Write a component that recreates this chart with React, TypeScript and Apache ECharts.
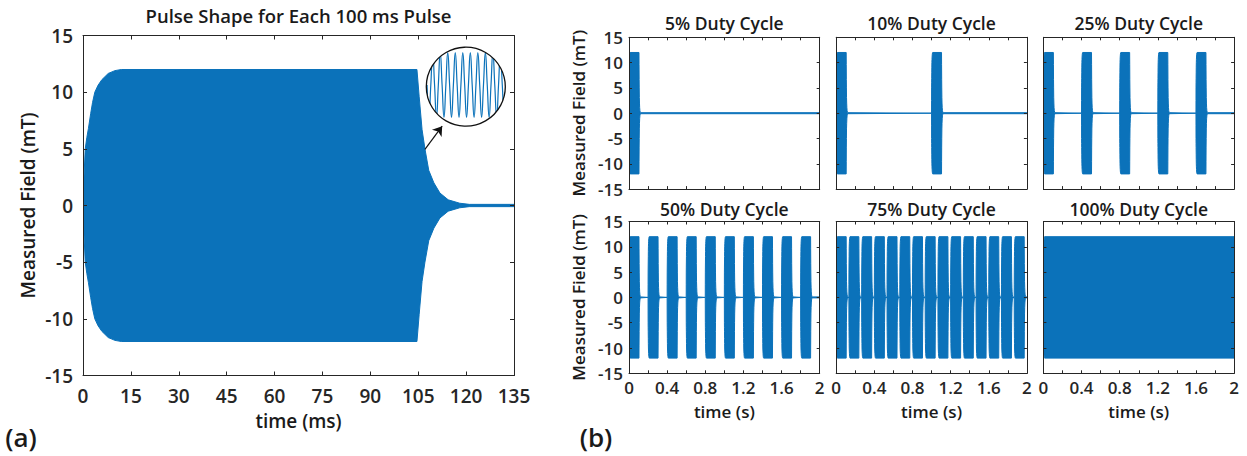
import React, { useEffect, useRef } from 'react';
import * as echarts from 'echarts';

const BLUE = '#0B72BA';
const AXIS = '#262626';
const FONT = '"Open Sans", "Noto Sans", sans-serif';

// ---- Pulse envelope (time in ms, amplitude in mT) ----
const riseMs = [0, 0.3, 0.7, 1.2, 1.7, 2.4, 3, 3.7, 4.7, 5.9, 7.9, 10, 12];
const riseAmp = [0, 2.5, 5, 6, 6.8, 8.1, 9.1, 10, 10.6, 11.1, 11.65, 11.9, 12];
const switchOffMs = 104.6;
const decayMs = [0, 0.7, 1.6, 2.5, 3.7, 5.3, 7.2, 9.8, 13.4, 16.4]; // after switch-off
const decayAmp = [12, 9.6, 6.7, 5, 3.1, 2, 1.1, 0.5, 0.2, 0.1];

// ---- Panel (a) axes ----
const aXMax = 135;
const aXStep = 15;
const yMin = -15;
const yMax = 15;
const yStep = 5;

// ---- Inset: zoomed oscillation (quarter-period samples) ----
const insetStart = 0.1;
const insetStep = 0.25;
const insetWave = [
  0, -1, 0, 1, 0, -1, 0, 1, 0, -1, 0, 1, 0, -1, 0, 1, 0, -1, 0, 1, 0, -1,
  0, 1, 0, -1, 0, 1, 0, -1, 0, 1, 0, -1, 0, 1, 0, -1, 0, 1, 0, -1, 0,
];

// ---- Panel (b): duty cycles, pulse start times (s) ----
const dutyTitles = ['5% Duty Cycle', '10% Duty Cycle', '25% Duty Cycle', '50% Duty Cycle', '75% Duty Cycle', '100% Duty Cycle'];
const starts5 = [0];
const starts10 = [0, 1];
const starts25 = [0, 0.4, 0.8, 1.2, 1.6];
const starts50 = [0, 0.2, 0.4, 0.6, 0.8, 1.0, 1.2, 1.4, 1.6, 1.8];
const starts75 = [0, 0.133, 0.267, 0.4, 0.533, 0.667, 0.8, 0.933, 1.067, 1.2, 1.333, 1.467, 1.6, 1.733, 1.867];
const starts100 = [0];
const dutyStarts = [starts5, starts10, starts25, starts50, starts75, starts100];
const dutyOnMs = [switchOffMs, switchOffMs, switchOffMs, switchOffMs, switchOffMs, 2000];
const bXMax = 2;
const bXStep = 0.2;
const bXLabels: Record<string, string> = { '0': '0', '4': '0.4', '8': '0.8', '12': '1.2', '16': '1.6', '20': '2' };

function buildTrain(startsMs: number[], onMs: number, endMs: number): number[][] {
  const pts: number[][] = [];
  startsMs.forEach((s, i) => {
    const limit = i + 1 < startsMs.length ? startsMs[i + 1] : endMs;
    const seg: number[][] = [];
    riseMs.forEach((t, k) => seg.push([s + t, riseAmp[k]]));
    decayMs.forEach((t, k) => seg.push([s + onMs + t, decayAmp[k]]));
    seg.forEach((p) => {
      if (p[0] < limit - 1e-9) pts.push(p);
    });
  });
  const last = pts[pts.length - 1];
  pts.push([endMs, last[1]]);
  return pts;
}

const tickFont = (size: number) => ({
  color: AXIS,
  fontSize: size,
  fontFamily: FONT,
  fontWeight: 600 as any,
});

function makeAxes(gi: number, xMax: number, xStep: number, showX: boolean, showY: boolean, size: number, tickLen: number, xFmt: (v: number) => string, labelMarginX: number, labelMarginY: number) {
  const line = { show: true, onZero: false, lineStyle: { color: AXIS, width: 1 } };
  const tick = { show: true, inside: true, length: tickLen, lineStyle: { color: AXIS, width: 1 } };
  const xBase = { type: 'value', gridIndex: gi, min: 0, max: xMax, interval: xStep, axisLine: line, axisTick: tick, splitLine: { show: false }, z: 5 };
  const yBase = { type: 'value', gridIndex: gi, min: yMin, max: yMax, interval: yStep, axisLine: line, axisTick: tick, splitLine: { show: false }, z: 5 };
  return {
    x: [
      { ...xBase, position: 'bottom', axisLabel: { show: showX, margin: labelMarginX, formatter: xFmt, ...tickFont(size) } },
      { ...xBase, position: 'top', axisLabel: { show: false } },
    ],
    y: [
      { ...yBase, position: 'left', axisLabel: { show: showY, margin: labelMarginY, ...tickFont(size) } },
      { ...yBase, position: 'right', axisLabel: { show: false } },
    ],
  };
}

export default function App() {
  const ref = useRef<HTMLDivElement>(null);
  useEffect(() => {
    document.body.style.margin = '0';
    if (!ref.current) return;
    const chart = echarts.init(ref.current, undefined, { renderer: 'svg' });

    const grids: any[] = [];
    const xAxes: any[] = [];
    const yAxes: any[] = [];
    const series: any[] = [];

    // Band between +A and -A drawn as one polygon through the axis scales
    const addBand = (pts: number[][], xScale: number) => {
      const xi = xAxes.length - 2;
      const yi = yAxes.length - 2;
      const data = pts.map((p) => [p[0] / xScale, p[1]]);
      series.push({
        type: 'custom', xAxisIndex: xi, yAxisIndex: yi, data, z: 3, silent: true, clip: true,
        renderItem: (params: any, api: any) => {
          if (params.dataIndex !== 0) return null;
          const upper = data.map((d) => api.coord([d[0], d[1]]));
          const lower = data.slice().reverse().map((d) => api.coord([d[0], -d[1]]));
          return {
            type: 'polygon',
            shape: { points: upper.concat(lower) },
            style: { fill: BLUE, stroke: BLUE, lineWidth: 1 },
          };
        },
      });
    };

    // Panel (a)
    grids.push({ left: 83, top: 35.5, width: 431, height: 340 });
    {
      const ax = makeAxes(0, aXMax, aXStep, true, true, 19, 4, (v) => String(v), 11, 10);
      xAxes.push(...ax.x);
      yAxes.push(...ax.y);
      addBand(buildTrain([0], switchOffMs, aXMax), 1);
      series.push({
        type: 'line', xAxisIndex: 0, yAxisIndex: 0, data: [], z: 4, silent: true,
        markLine: {
          silent: true, symbol: ['none', 'arrow'], symbolSize: 9, label: { show: false },
          lineStyle: { color: '#111', width: 1.2, type: 'solid' },
          data: [[{ coord: [107.1, 4.96] }, { coord: [112.5, 7.0] }]],
        },
      });
    }

    // Panel (b)
    const bLefts = [629, 836.2, 1043.4];
    const bTops = [37.3, 221.5];
    const bW = 190.7;
    const bH = 151.8;
    dutyTitles.forEach((_, k) => {
      const row = Math.floor(k / 3);
      const col = k % 3;
      const gi = grids.length;
      grids.push({ left: bLefts[col], top: bTops[row], width: bW, height: bH });
      const ax = makeAxes(gi, bXMax, bXStep, row === 1, col === 0, 17, 3, (v) => bXLabels[String(Math.round(v * 10))] ?? '', 6, 6);
      xAxes.push(...ax.x);
      yAxes.push(...ax.y);
      addBand(buildTrain(dutyStarts[k].map((s) => s * 1000), dutyOnMs[k], bXMax * 1000), 1000);
    });

    // Inset grid
    const insetGi = grids.length;
    grids.push({ left: 426.3, top: 52.7, width: 79, height: 64.6 });
    xAxes.push({ type: 'value', gridIndex: insetGi, min: 0, max: 10.5, show: false });
    yAxes.push({ type: 'value', gridIndex: insetGi, min: -1, max: 1, show: false });
    series.push({
      type: 'line', xAxisIndex: xAxes.length - 1, yAxisIndex: yAxes.length - 1,
      data: insetWave.map((v, i) => [insetStart + i * insetStep, v]),
      smooth: 0.5, showSymbol: false, symbol: 'none', clip: false,
      lineStyle: { color: BLUE, width: 1.2 }, z: 1, silent: true,
    });

    const txt = (text: string, x: number, y: number, size: number, weight: any = 600, rot = 0) => ({
      type: 'text', x, y, rotation: rot, z: 10,
      style: { text, fill: '#1a1a1a', font: `${weight} ${size}px ${FONT}`, align: 'center', verticalAlign: 'middle' },
    });

    const graphic: any[] = [
      { type: 'ring', shape: { cx: 465.8, cy: 86.7, r: 53, r0: 39.5 }, style: { fill: '#fff' }, z: 2, silent: true },
      { type: 'circle', shape: { cx: 465.8, cy: 86.7, r: 39.5 }, style: { fill: 'none', stroke: '#111', lineWidth: 1.3 }, z: 6, silent: true },
      txt('Pulse Shape for Each 100 ms Pulse', 298.5, 15, 18.5),
      txt('Measured Field (mT)', 28, 205.5, 19, 600, Math.PI / 2),
      txt('time (ms)', 298.5, 421, 19),
      txt('(a)', 21, 437, 26, 600),
      txt('(b)', 596, 437, 26, 600),
      txt('Measured Field (mT)', 578, 113.2, 17, 600, Math.PI / 2),
      txt('Measured Field (mT)', 578, 297.4, 17, 600, Math.PI / 2),
    ];
    dutyTitles.forEach((t, k) => {
      const row = Math.floor(k / 3);
      const col = k % 3;
      graphic.push(txt(t, bLefts[col] + bW / 2, row === 0 ? 23 : 208.5, 17.5));
      if (row === 1) graphic.push(txt('time (s)', bLefts[col] + bW / 2, 411, 17));
    });

    chart.setOption({
      animation: false,
      grid: grids,
      xAxis: xAxes,
      yAxis: yAxes,
      series,
      graphic: { elements: graphic },
    });
    return () => chart.dispose();
  }, []);
  return <div ref={ref} style={{ width: 1247, height: 456 }} />;
}
